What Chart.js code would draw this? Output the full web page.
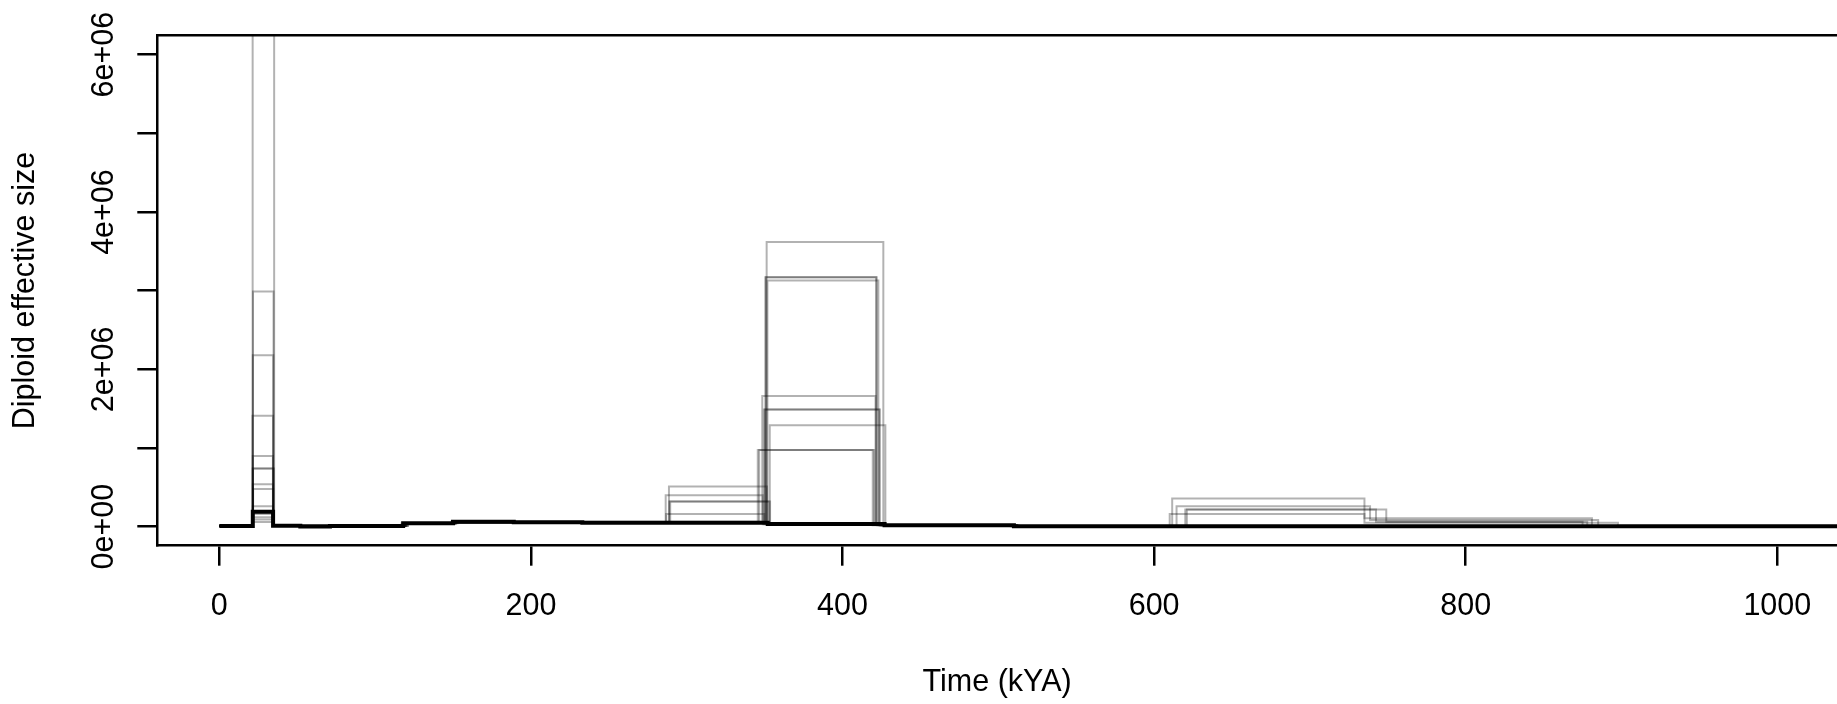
<!DOCTYPE html>
<html>
<head>
<meta charset="utf-8">
<script src="https://cdn.jsdelivr.net/npm/chart.js"></script>
<style>
    html, body { margin: 0; padding: 0; background: #fff; overflow: hidden; }
    canvas { display: block; }
</style>
</head>
<body>
<canvas id="ne-chart" width="1837" height="704"></canvas>
<script>
// Axis ticks and labels
const xTicks = [0, 200, 400, 600, 800, 1000];
const yTicks = [0, 1e6, 2e6, 3e6, 4e6, 5e6, 6e6];
const yLabelTicks = [0, 2e6, 4e6, 6e6];
const yTickLabels = ['0e+00', '2e+06', '4e+06', '6e+06'];
const xTitle = 'Time (kYA)';
const yTitle = 'Diploid effective size';

// Main estimate (thick line)
const mainTime = [0, 21.5, 34.5, 52, 71, 118, 150, 189, 233, 287, 352, 427, 510, 1100];
const mainNe = [8e3, 1.9e5, 1.2e4, 2e3, 1e4, 4.3e4, 6.4e4, 5.6e4, 5.0e4, 5.0e4, 3.4e4, 1.8e4, 6e3, 6e3];

// Bootstrap replicates (time in kYA, diploid Ne)
const rep01Time = [0, 21.4, 35.2, 118, 150, 351.3, 426.2, 510, 1100];
const rep01Ne = [1.0e4, 8.5e6, 1.2e4, 4.0e4, 5.5e4, 3.62e6, 2.0e4, 8e3, 8e3];
const rep02Time = [0, 21.6, 34.8, 119, 151, 350.5, 421.5, 512, 1100];
const rep02Ne = [9e3, 2.99e6, 1.0e4, 4.5e4, 6.0e4, 3.17e6, 2.2e4, 7e3, 7e3];
const rep03Time = [0, 21.5, 34.6, 117, 152, 351.8, 423.0, 508, 1100];
const rep03Ne = [1.1e4, 2.18e6, 1.1e4, 4.2e4, 5.6e4, 3.13e6, 1.9e4, 9e3, 9e3];
const rep04Time = [0, 21.3, 34.5, 120, 149, 348.5, 421.2, 511, 1100];
const rep04Ne = [8e3, 1.41e6, 9e3, 4.0e4, 6.2e4, 1.66e6, 2.1e4, 6e3, 6e3];
const rep05Time = [0, 21.5, 34.4, 118, 150, 349.5, 423.5, 509, 1100];
const rep05Ne = [1.0e4, 9.0e5, 1.2e4, 4.4e4, 5.9e4, 1.49e6, 2.0e4, 8e3, 8e3];
const rep06Time = [0, 21.6, 34.7, 121, 151, 350.3, 424.0, 510, 1100];
const rep06Ne = [9e3, 7.4e5, 1.0e4, 4.1e4, 5.7e4, 1.49e6, 1.8e4, 7e3, 7e3];
const rep07Time = [0, 21.4, 34.9, 119, 153, 353.3, 427.5, 513, 1100];
const rep07Ne = [1.2e4, 7.4e5, 1.3e4, 4.3e4, 6.1e4, 1.29e6, 2.3e4, 9e3, 9e3];
const rep08Time = [0, 21.5, 34.5, 118, 150, 345.6, 419.4, 508, 1100];
const rep08Ne = [1.0e4, 5.4e5, 1.1e4, 4.0e4, 5.4e4, 9.75e5, 1.9e4, 6e3, 6e3];
const rep09Time = [0, 21.7, 34.6, 120, 152, 346.5, 420.3, 511, 1100];
const rep09Ne = [9e3, 4.8e5, 1.0e4, 4.6e4, 5.8e4, 9.75e5, 2.1e4, 8e3, 8e3];
const rep10Time = [0, 21.5, 34.6, 120, 151, 288.6, 351.5, 425, 512, 611.6, 735.0, 881.0, 1100];
const rep10Ne = [1.0e4, 2.0e5, 1.1e4, 4.0e4, 5.8e4, 5.1e5, 3.0e4, 1.6e4, 8e3, 3.6e5, 1.07e5, 6e3, 6e3];
const rep11Time = [0, 21.4, 34.7, 118, 150, 286.5, 348.8, 424, 510, 614.4, 738.6, 885.0, 1100];
const rep11Ne = [9e3, 1.6e5, 1.0e4, 4.3e4, 6.0e4, 4.0e5, 3.2e4, 1.7e4, 7e3, 2.6e5, 8.5e4, 7e3, 7e3];
const rep12Time = [0, 21.6, 34.5, 119, 152, 288.8, 353.5, 426, 511, 620.0, 742.4, 875.0, 1100];
const rep12Ne = [1.1e4, 1.2e5, 1.2e4, 4.1e4, 5.6e4, 3.2e5, 2.9e4, 1.8e4, 8e3, 2.2e5, 6.4e4, 6e3, 6e3];
const rep13Time = [0, 21.5, 34.8, 121, 150, 289.4, 352.6, 427, 509, 621.0, 749.0, 878.0, 1100];
const rep13Ne = [1.0e4, 9.0e4, 1.1e4, 4.4e4, 5.9e4, 3.2e5, 3.1e4, 1.6e4, 7e3, 2.2e5, 6.4e4, 7e3, 7e3];
const rep14Time = [0, 21.3, 34.6, 118, 151, 286.8, 349.8, 425, 512, 610.0, 735.0, 897.7, 1100];
const rep14Ne = [9e3, 6.0e4, 1.0e4, 4.2e4, 5.7e4, 1.6e5, 3.0e4, 1.7e4, 8e3, 1.6e5, 5.0e4, 6e3, 6e3];
const rep15Time = [0, 21.5, 34.5, 119, 151, 350.8, 422.0, 510, 1100];
const rep15Ne = [1.0e4, 2.6e5, 1.1e4, 4.1e4, 5.8e4, 3.17e6, 2.0e4, 7e3, 7e3];

const replicates = [
    [rep01Time, rep01Ne], [rep02Time, rep02Ne], [rep03Time, rep03Ne],
    [rep04Time, rep04Ne], [rep05Time, rep05Ne], [rep06Time, rep06Ne],
    [rep07Time, rep07Ne], [rep08Time, rep08Ne], [rep09Time, rep09Ne],
    [rep10Time, rep10Ne], [rep11Time, rep11Ne], [rep12Time, rep12Ne],
    [rep13Time, rep13Ne], [rep14Time, rep14Ne], [rep15Time, rep15Ne]
];

const toPoints = (times, values) => times.map((t, i) => ({ x: t, y: values[i] }));

const neChart = document.querySelector('#ne-chart');

const dataNe = {
    datasets: [
        {
            label: 'estimate',
            data: toPoints(mainTime, mainNe),
            borderColor: '#000',
            borderWidth: 4,
            stepped: true,
            pointRadius: 0,
            fill: false,
            clip: 0
        },
        ...replicates.map(([t, ne], i) => ({
            label: 'rep' + (i + 1),
            data: toPoints(t, ne),
            borderColor: 'rgba(0,0,0,0.3)',
            borderWidth: 2,
            stepped: true,
            pointRadius: 0,
            fill: false,
            clip: 0
        }))
    ]
};

const axisGrid = {
    drawOnChartArea: false,
    drawTicks: true,
    tickLength: 20,
    color: '#000',
    lineWidth: 2.5
};

const optionsNe = {
    responsive: false,
    animation: false,
    devicePixelRatio: 1,
    layout: {
        padding: { top: 35.2, right: 0, bottom: 0, left: 0 }
    },
    plugins: {
        legend: { display: false },
        tooltip: { enabled: false }
    },
    scales: {
        x: {
            type: 'linear',
            min: -39.8,
            max: 1038.3,
            afterBuildTicks: (scale) => { scale.ticks = xTicks.map(v => ({ value: v })); },
            afterFit: (scale) => { scale.height = 158.3; },
            ticks: { display: false },
            grid: axisGrid,
            border: { display: true, color: '#000', width: 2.5 }
        },
        y: {
            type: 'linear',
            min: -0.2415e6,
            max: 6.248e6,
            afterBuildTicks: (scale) => { scale.ticks = yTicks.map(v => ({ value: v })); },
            afterFit: (scale) => { scale.width = 157.3; },
            ticks: { display: false },
            grid: axisGrid,
            border: { display: true, color: '#000', width: 2.5 }
        }
    }
};

// R-style box top and rotated axis text
const rAxisText = {
    id: 'rAxisText',
    afterDraw: (chart) => {
        const ctx = chart.ctx;
        const area = chart.chartArea;
        const xScale = chart.scales.x;
        const yScale = chart.scales.y;
        ctx.save();
        ctx.strokeStyle = '#000';
        ctx.lineWidth = 2.5;
        ctx.beginPath();
        ctx.moveTo(area.left - 1.25, area.top);
        ctx.lineTo(area.right, area.top);
        ctx.stroke();

        ctx.fillStyle = '#000';
        ctx.font = '30.5px "Liberation Sans", Arial, sans-serif';
        ctx.textAlign = 'center';
        ctx.textBaseline = 'alphabetic';
        xTicks.forEach(v => ctx.fillText(String(v), xScale.getPixelForValue(v), 615));
        ctx.fillText(xTitle, (area.left + area.right) / 2, 691);

        yLabelTicks.forEach((v, i) => {
            ctx.save();
            ctx.translate(113, yScale.getPixelForValue(v));
            ctx.rotate(-Math.PI / 2);
            ctx.fillText(yTickLabels[i], 0, 0);
            ctx.restore();
        });

        ctx.translate(33.5, (area.top + area.bottom) / 2);
        ctx.rotate(-Math.PI / 2);
        ctx.fillText(yTitle, 0, 0);
        ctx.restore();
    }
};

new Chart(neChart, {
    type: 'line',
    data: dataNe,
    options: optionsNe,
    plugins: [rAxisText]
});
</script>
</body>
</html>
